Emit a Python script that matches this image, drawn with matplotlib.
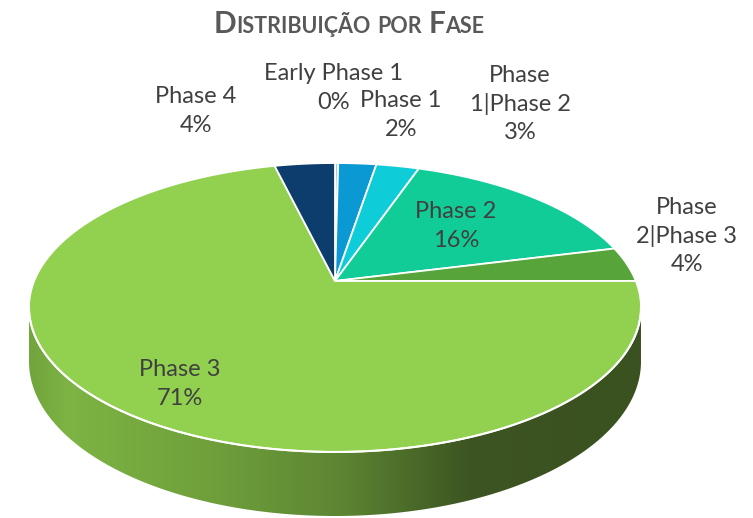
import numpy as np
import matplotlib
matplotlib.use("Agg")
import matplotlib.pyplot as plt
from matplotlib.patches import Polygon
from matplotlib.colors import LinearSegmentedColormap

# data (share of studies per phase, clockwise from 12 o'clock)
phases = ["Early Phase 1", "Phase 1", "Phase\n1|Phase 2", "Phase 2",
          "Phase\n2|Phase 3", "Phase 3", "Phase 4"]
shares = [0.2, 2.4, 2.7, 15.8, 3.9, 71.2, 3.8]
colors = ["#9cc6ea", "#0a99d3", "#0fcdd8", "#12cc97", "#56a43a", "#92d050", "#0c3d6d"]

# label centres (pixels, from top-left)
label_pos = [(334, 88), (401, 115), (520, 104), (456, 226), (687, 236), (180, 384), (196, 111)]

W, H = 753, 518
fig = plt.figure(figsize=(W / 100, H / 100), dpi=100)
ax = fig.add_axes([0, 0, 1, 1])
ax.axis("off")

# perspective projection of a unit disc
cx, cy = 335, 281
a, b, k, c = 300.8, 139.6, 0.1834, 52.3


def proj(th, z=0.0):
    x, y = np.sin(th), np.cos(th)
    w = 1 + k * y
    return cx + a * x / w, cy - b * y / w + c * z / w


# side of the cylinder (front half only)
th_r = np.pi / 2 + np.arcsin(k)
th_l = 2 * np.pi - th_r
ts = np.linspace(th_r, th_l, 200)
tx, ty = proj(ts)
bx, by = proj(ts, 1.0)
side = Polygon(np.column_stack([np.r_[tx, bx[::-1]], np.r_[ty, by[::-1]]]),
               closed=True, facecolor="none", edgecolor="none")
ax.add_patch(side)
side_cmap = LinearSegmentedColormap.from_list(
    "side", [(0, "#72a53d"), (0.06, "#7db444"), (0.3, "#6f9f3b"),
             (0.5, "#5e8733"), (0.72, "#3d5522"), (1.0, "#3a5120")])
grad = np.linspace(0, 1, 300)[None, :]
im = ax.imshow(grad, cmap=side_cmap, extent=(tx.min(), tx.max(), 530, 280),
               aspect="auto", zorder=1)
im.set_clip_path(side)

# top face wedges
total = sum(shares)
cum = np.cumsum([0] + shares) / total * 2 * np.pi
for i, col in enumerate(colors):
    t = np.linspace(cum[i], cum[i + 1], max(3, int(np.degrees(cum[i + 1] - cum[i]) * 2)))
    px, py = proj(t)
    poly = Polygon(np.column_stack([np.r_[cx, px], np.r_[cy, py]]), closed=True,
                   facecolor=col, edgecolor="white", lw=1.3, zorder=2)
    ax.add_patch(poly)

ax.plot(tx, ty, color="white", lw=1.5, zorder=3)

# data labels
for name, v, (lx, ly) in zip(phases, shares, label_pos):
    ax.text(lx, ly, f"{name}\n{v / total * 100:.0f}%", ha="center", va="center",
            multialignment="center", fontsize=17, color="#404040",
            family="Lato", linespacing=1.42, zorder=4)

ax.set_xlim(0, W)
ax.set_ylim(H, 0)

# title in small caps
renderer = fig.canvas.get_renderer()
pieces = [("D", 21.5), ("ISTRIBUIÇÃO", 15.5), (" ", 15.5), ("POR", 15.5), (" ", 15.5),
          ("F", 21.5), ("ASE", 15.5)]
texts = []
for s, size in pieces:
    txt = fig.text(0, 0, s if s != " " else "", fontsize=size, fontweight="bold",
                   color="#595959", family="Lato", va="baseline", ha="left")
    texts.append(txt)
widths = []
for (s, size), txt in zip(pieces, texts):
    if s == " ":
        widths.append(size * 100 / 72 * 0.3)
    else:
        widths.append(txt.get_window_extent(renderer).width)
x0 = 349 - sum(widths) / 2
for txt, w in zip(texts, widths):
    txt.set_position((x0 / W, 1 - 33 / H))
    x0 += w

fig.savefig("out.png", dpi=100)
